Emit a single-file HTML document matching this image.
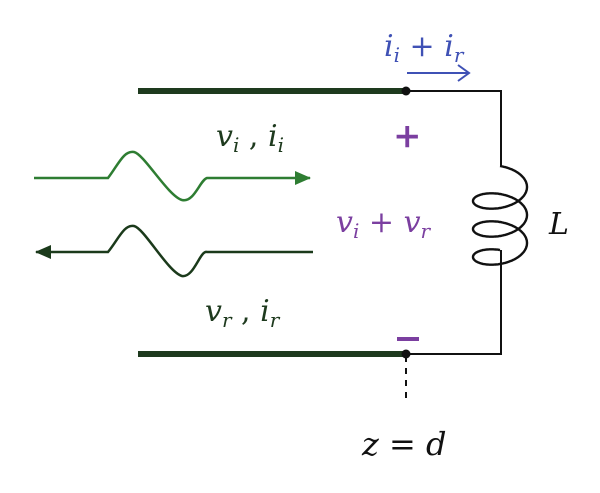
<!DOCTYPE html>
<html><head><style>
body{margin:0;background:#fff;width:600px;height:488px;overflow:hidden}
text{font-family:"DejaVu Serif","Liberation Serif",serif;font-style:italic}
</style></head><body>
<svg width="600" height="488" viewBox="0 0 600 488" xmlns="http://www.w3.org/2000/svg">
<defs>
<marker id="ag" markerWidth="16" markerHeight="14" refX="15" refY="7" orient="auto" markerUnits="userSpaceOnUse"><path d="M0,0 L16,7 L0,14 Z" fill="#2e7d32"/></marker>
<marker id="ad" markerWidth="16" markerHeight="14" refX="15" refY="7" orient="auto" markerUnits="userSpaceOnUse"><path d="M0,0 L16,7 L0,14 Z" fill="#1b3a1b"/></marker>
</defs>
<line x1="138" y1="91" x2="406" y2="91" stroke="#1e3a1e" stroke-width="6"/>
<line x1="138" y1="354" x2="406" y2="354" stroke="#1e3a1e" stroke-width="6"/>
<path d="M406,91 H501 V166" fill="none" stroke="#111" stroke-width="2"/>
<path d="M501,250 V354 H406" fill="none" stroke="#111" stroke-width="2"/>
<path id="coil" fill="none" stroke="#111" stroke-width="2.4"/>
<circle cx="406" cy="91" r="4.5" fill="#111"/>
<circle cx="406" cy="354" r="4.5" fill="#111"/>
<line x1="406" y1="356" x2="406" y2="398" stroke="#111" stroke-width="2" stroke-dasharray="6,6"/>
<path d="M34,178 H108 C118,165 124,150 134,152 C144,154 168,196 182,200 C194,203 200,180 207,178 H310" fill="none" stroke="#2e7d32" stroke-width="2.5" marker-end="url(#ag)"/>
<path d="M313,252 H207 C200,250 194,278 182,276 C168,272 144,228 134,226 C124,224 118,240 108,252 H36" fill="none" stroke="#1b3a1b" stroke-width="2.5" marker-end="url(#ad)"/>
<path d="M407,73 H468 M458,65 L469,73 L458,81" fill="none" stroke="#3f51b5" stroke-width="2"/>
<text x="384" y="56" font-size="30" fill="#3f51b5">i<tspan font-size="20" dy="6">i</tspan><tspan dy="-6" font-style="normal"> + </tspan>i<tspan font-size="20" dy="6">r</tspan></text>
<text x="216" y="146" font-size="30" fill="#1e3a1e">v<tspan font-size="20" dy="6">i</tspan><tspan dy="-6" font-style="normal"> , </tspan>i<tspan font-size="20" dy="6">i</tspan></text>
<text x="205" y="321" font-size="30" fill="#1e3a1e">v<tspan font-size="20" dy="6">r</tspan><tspan dy="-6" font-style="normal"> , </tspan>i<tspan font-size="20" dy="6">r</tspan></text>
<text x="336" y="232" font-size="30" fill="#7b3fa0">v<tspan font-size="20" dy="6">i</tspan><tspan dy="-6" font-style="normal"> + </tspan>v<tspan font-size="20" dy="6">r</tspan></text>
<text x="393" y="147" font-size="34" font-style="normal" font-weight="bold" fill="#7b3fa0">+</text>
<rect x="397" y="337" width="22" height="4" fill="#7b3fa0"/>
<text x="549" y="234" font-size="30" fill="#111">L</text>
<text x="362" y="455" font-size="32" fill="#111">z<tspan font-style="normal"> = </tspan>d</text>
</svg>
<script>
(function(){
 var pts=[],cx=500,y0=166,y1=250,n=3,N=600,r=14;
 for(var i=0;i<=N;i++){
  var t=i/N*n*2*Math.PI;
  var x=cx+27*Math.sin(t);
  var base=y0+(y1-y0)*i/N;
  var y=base - r*Math.cos(t)+r;
  pts.push((i?'L':'M')+x.toFixed(1)+','+y.toFixed(1));
 }
 document.getElementById('coil').setAttribute('d',pts.join(' '));
})();
</script>
</body></html>
